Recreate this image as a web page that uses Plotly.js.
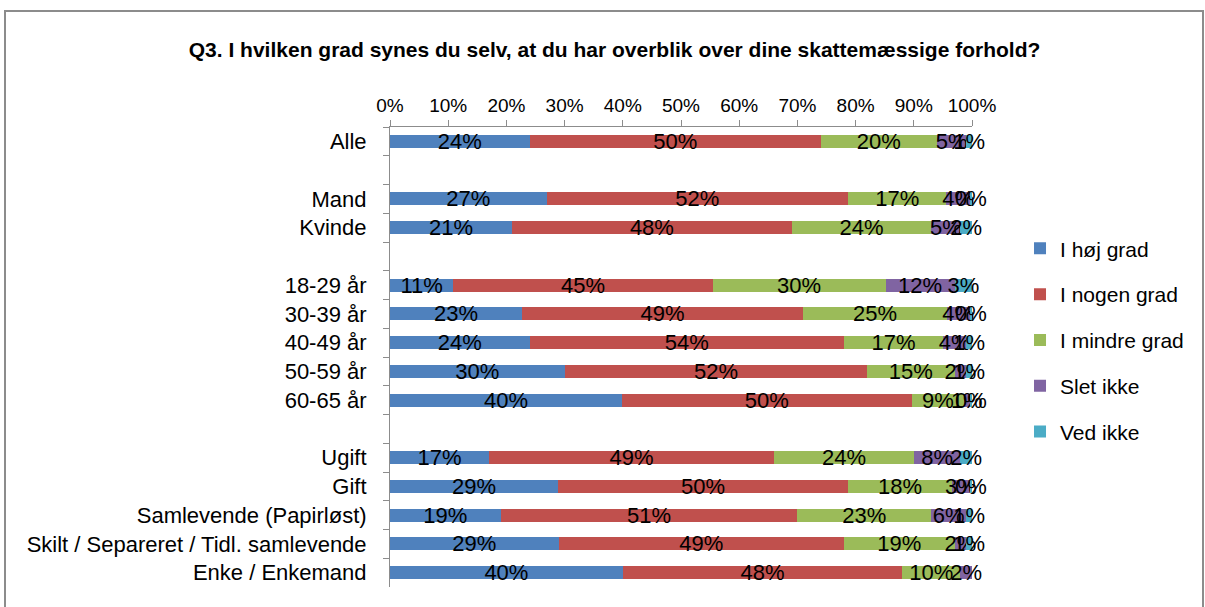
<!DOCTYPE html>
<html>
<head>
<meta charset="utf-8">
<script src="https://cdn.plot.ly/plotly-3.0.1.min.js"></script>
<style>
  html, body { margin: 0; padding: 0; background: #fff; }
  #wrap { position: relative; width: 1205px; height: 607px; overflow: hidden; }
  #chart { position: absolute; left: 0; top: 0; width: 1205px; height: 607px; }
  #frame { position: absolute; left: 4px; top: 10px; width: 1196px; height: 640px;
           border: 2px solid #8c8c8c; pointer-events: none; }
</style>
</head>
<body>
<div id="wrap">
  <div id="chart"></div>
  <div id="frame"></div>
</div>
<script>
// Categories (top to bottom)
const categories = [
  "Alle", "Mand", "Kvinde",
  "18-29 år", "30-39 år", "40-49 år", "50-59 år", "60-65 år",
  "Ugift", "Gift", "Samlevende (Papirløst)",
  "Skilt / Separeret / Tidl. samlevende", "Enke / Enkemand"
];
// Axis order including blank spacer rows
const axisOrder = [
  "Alle", " ", "Mand", "Kvinde", "  ",
  "18-29 år", "30-39 år", "40-49 år", "50-59 år", "60-65 år", "   ",
  "Ugift", "Gift", "Samlevende (Papirløst)",
  "Skilt / Separeret / Tidl. samlevende", "Enke / Enkemand"
];
const seriesNames = ["I høj grad", "I nogen grad", "I mindre grad", "Slet ikke", "Ved ikke"];
const hojGrad    = [24, 27, 21, 11, 23, 24, 30, 40, 17, 29, 19, 29, 40];
const nogenGrad  = [50, 52, 48, 45, 49, 54, 52, 50, 49, 50, 51, 49, 48];
const mindreGrad = [20, 17, 24, 30, 25, 17, 15,  9, 24, 18, 23, 19, 10];
const sletIkke   = [ 5,  4,  5, 12,  4,  4,  2,  1,  8,  3,  6,  2,  2];
const vedIkke    = [ 1, 0.4, 2,  3, 0.4,  1,  1, 0.4, 2, 0.4,  1,  1,  0];
const tickVals   = [0, 10, 20, 30, 40, 50, 60, 70, 80, 90, 100];
const colors = ["#4F81BD", "#C0504D", "#9BBB59", "#8064A2", "#4BACC6"];

const allSeries = [hojGrad, nogenGrad, mindreGrad, sletIkke, vedIkke];
const FONT = "Liberation Sans, Arial, sans-serif";

const traces = allSeries.map((vals, i) => ({
  type: "bar",
  orientation: "h",
  name: seriesNames[i],
  legendgroup: "g" + i,
  y: categories,
  x: vals,
  marker: { color: colors[i], line: { width: 0 } },
  text: vals.map(v => v > 0 ? Math.round(v) + "%" : ""),
  textposition: "inside",
  insidetextanchor: "middle",
  constraintext: "none",
  textangle: 0,
  textfont: { family: FONT, size: 22, color: "#000" },
  hoverinfo: "none",
  cliponaxis: false
}));

const layout = {
  width: 1205, height: 607,
  margin: { l: 390, r: 233, t: 127, b: 20 },
  paper_bgcolor: "#fff", plot_bgcolor: "#fff",
  barmode: "stack",
  barnorm: "percent",
  bargap: 0.55,
  showlegend: true,
  font: { family: FONT, size: 19, color: "#000" },
  title: {
    text: "<b>Q3. I hvilken grad synes du selv, at du har overblik over dine skattemæssige forhold?</b>",
    font: { family: FONT, size: 21, color: "#000" },
    xref: "container", x: 0.51, xanchor: "center",
    yref: "container", y: 1 - 50 / 607, yanchor: "middle"
  },
  xaxis: {
    side: "top",
    range: [0, 100],
    tickvals: tickVals,
    ticktext: tickVals.map(v => v + "%"),
    showgrid: false, zeroline: false,
    showline: true, linecolor: "#8c8c8c", linewidth: 1,
    ticks: "outside", ticklen: 6, tickcolor: "#8c8c8c",
    tickfont: { family: FONT, size: 19, color: "#000" },
    fixedrange: true
  },
  yaxis: {
    type: "category",
    categoryorder: "array",
    categoryarray: axisOrder,
    range: [axisOrder.length - 0.5, -0.5],
    showgrid: false, zeroline: false,
    showline: true, linecolor: "#8c8c8c", linewidth: 1,
    ticks: "outside", ticklen: 6, tickcolor: "#8c8c8c",
    tickson: "boundaries",
    tickfont: { family: FONT, size: 22, color: "#000" },
    ticklabelstandoff: 18,
    fixedrange: true
  },
  legend: {
    x: 1.0825, xanchor: "left",
    y: 0.78, yanchor: "top",
    traceorder: "grouped",
    tracegroupgap: 15.5,
    font: { family: FONT, size: 21, color: "#000" },
    itemwidth: 30,
    bgcolor: "rgba(0,0,0,0)"
  }
};

Plotly.newPlot("chart", traces, layout, { staticPlot: true, displayModeBar: false });
</script>
</body>
</html>
